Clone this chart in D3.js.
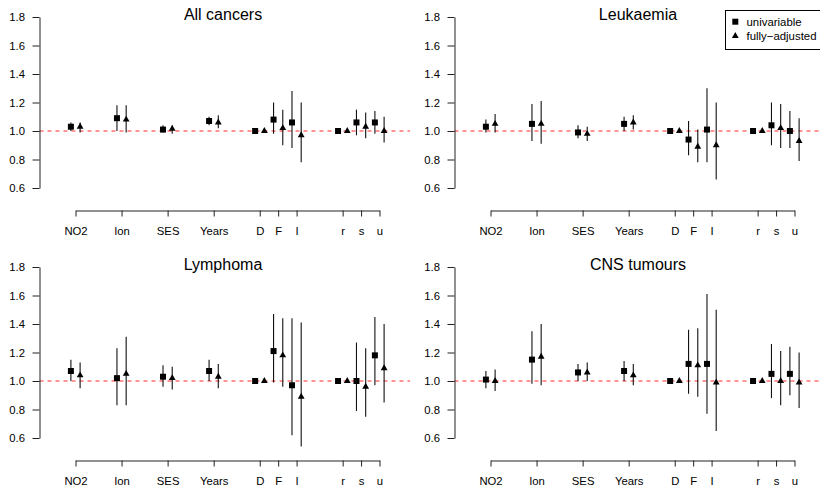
<!DOCTYPE html>
<html><head><meta charset="utf-8">
<script src="https://cdn.jsdelivr.net/npm/d3@7"></script>
<style>
body{margin:0;background:#fff}
svg{display:block}
text{font-family:"Liberation Sans",Arial,Helvetica,sans-serif;fill:#000}
</style>
</head><body>
<svg id="c" width="820" height="486"></svg>
<script>
const categories = ["NO2","Ion","SES","Years","D","F","I","r","s","u"];
const groups = [0,1,2,3,4,4,4,5,5,5];
const panelTitles = ["All cancers","Leukaemia","Lymphoma","CNS tumours"];
const yTicks = [0.6,0.8,1.0,1.2,1.4,1.6,1.8];
const legendLabels = ["univariable","fully\u2212adjusted"];
const refValue = 1.0;

// All cancers
const allUniEst = [1.03,1.09,1.01,1.07,1.00,1.08,1.06,1.00,1.06,1.06];
const allUniLo  = [1.00,1.00,0.99,1.04,null,0.98,0.88,null,0.97,0.98];
const allUniHi  = [1.06,1.18,1.04,1.10,null,1.20,1.28,null,1.15,1.14];
const allAdjEst = [1.03,1.08,1.015,1.06,1.00,1.02,0.97,1.00,1.03,1.00];
const allAdjLo  = [0.99,0.99,0.98,1.02,null,0.90,0.78,null,0.95,0.92];
const allAdjHi  = [1.06,1.18,1.04,1.11,null,1.15,1.20,null,1.13,1.10];

// Leukaemia
const leuUniEst = [1.03,1.05,0.99,1.05,1.00,0.94,1.01,1.00,1.04,1.00];
const leuUniLo  = [0.99,0.93,0.95,1.00,null,0.83,0.78,null,0.90,0.88];
const leuUniHi  = [1.08,1.19,1.04,1.10,null,1.07,1.30,null,1.20,1.14];
const leuAdjEst = [1.05,1.05,0.98,1.06,1.00,0.89,0.90,1.00,1.02,0.93];
const leuAdjLo  = [0.99,0.91,0.93,1.01,null,0.78,0.66,null,0.88,0.79];
const leuAdjHi  = [1.12,1.21,1.03,1.11,null,1.01,1.20,null,1.19,1.09];

// Lymphoma
const lymUniEst = [1.07,1.02,1.03,1.07,1.00,1.21,0.97,1.00,1.00,1.18];
const lymUniLo  = [1.00,0.83,0.96,1.00,null,0.99,0.62,null,0.79,0.97];
const lymUniHi  = [1.15,1.23,1.11,1.15,null,1.47,1.44,null,1.27,1.45];
const lymAdjEst = [1.04,1.05,1.02,1.03,1.00,1.18,0.89,1.00,0.96,1.09];
const lymAdjLo  = [0.95,0.83,0.94,0.95,null,0.96,0.54,null,0.75,0.85];
const lymAdjHi  = [1.13,1.31,1.10,1.12,null,1.44,1.41,null,1.23,1.40];

// CNS tumours
const cnsUniEst = [1.01,1.15,1.06,1.07,1.00,1.12,1.12,1.00,1.05,1.05];
const cnsUniLo  = [0.95,0.98,1.00,1.00,null,0.91,0.77,null,0.88,0.90];
const cnsUniHi  = [1.07,1.35,1.12,1.14,null,1.36,1.61,null,1.26,1.24];
const cnsAdjEst = [1.00,1.17,1.06,1.04,1.00,1.11,0.99,1.00,1.00,0.99];
const cnsAdjLo  = [0.93,0.97,1.00,0.97,null,0.89,0.65,null,0.83,0.81];
const cnsAdjHi  = [1.08,1.40,1.13,1.12,null,1.37,1.50,null,1.21,1.20];

const panels = [
  {title: panelTitles[0], uni:[allUniEst,allUniLo,allUniHi], adj:[allAdjEst,allAdjLo,allAdjHi]},
  {title: panelTitles[1], uni:[leuUniEst,leuUniLo,leuUniHi], adj:[leuAdjEst,leuAdjLo,leuAdjHi]},
  {title: panelTitles[2], uni:[lymUniEst,lymUniLo,lymUniHi], adj:[lymAdjEst,lymAdjLo,lymAdjHi]},
  {title: panelTitles[3], uni:[cnsUniEst,cnsUniLo,cnsUniHi], adj:[cnsAdjEst,cnsAdjLo,cnsAdjHi]}
];

// category positions: new group adds a wider gap
const pos = [];
categories.forEach((c,i)=>{
  if(i===0) pos.push(1);
  else pos.push(pos[i-1] + (groups[i]!==groups[i-1] ? 2.5 : 1));
});

const svg = d3.select("#c");
const x = d3.scaleLinear().domain([pos[0], pos[pos.length-1]]).range([75.5, 379.5]);
const y = d3.scaleLinear().domain([0.6, 1.8]).range([188, 17]);
const off = 0.25;
const sq = d3.symbol().type(d3.symbolSquare).size(36);
const tri = d3.symbol().type(d3.symbolTriangle).size(20);
const fs = "11.3px";

panels.forEach((p, k)=>{
  const col = k % 2, row = Math.floor(k/2);
  const g = svg.append("g").attr("transform", `translate(${col*415},${row*250})`);

  // reference line
  g.append("line").attr("x1",39.5).attr("x2",410).attr("y1",y(refValue)).attr("y2",y(refValue))
    .attr("stroke","#ff2a2a").attr("stroke-width",1).attr("stroke-dasharray","4,4");

  // y axis
  const ya = g.append("g").attr("transform","translate(39.5,0)")
    .call(d3.axisLeft(y).tickValues(yTicks).tickSize(7).tickSizeOuter(0).tickPadding(7.5).tickFormat(d3.format(".1f")));
  ya.selectAll("path,line").attr("stroke","#222");
  ya.selectAll("text").attr("font-size",fs).attr("fill","#111")
    .style("font-family",'"Liberation Sans",Arial,sans-serif');

  // x axis
  const xa = g.append("g").attr("transform","translate(0,210.5)")
    .call(d3.axisBottom(x).tickValues(pos).tickSize(6).tickSizeOuter(0).tickPadding(10)
      .tickFormat((d,i)=>categories[i]));
  xa.selectAll("path,line").attr("stroke","#222");
  xa.selectAll("text").attr("font-size",fs).attr("fill","#111")
    .style("font-family",'"Liberation Sans",Arial,sans-serif');

  // title
  g.append("text").attr("x",223).attr("y",20).attr("text-anchor","middle")
    .attr("font-size","16px").text(p.title);

  const series = [[p.uni,-off,sq],[p.adj,off,tri]];
  series.forEach(([s,o,sym])=>{
    const [est,lo,hi] = s;
    categories.forEach((c,i)=>{
      const cx = x(pos[i]+o);
      if(lo[i]!==null){
        g.append("line").attr("x1",cx).attr("x2",cx).attr("y1",y(lo[i])).attr("y2",y(hi[i]))
          .attr("stroke","#111").attr("stroke-width",1.1);
      }
      g.append("path").attr("d",sym()).attr("transform",`translate(${cx},${y(est[i])})`).attr("fill","#000");
    });
  });

  if(k===1){
    const lg = g.append("g");
    lg.append("rect").attr("x",310.5).attr("y",10.5).attr("width",110).attr("height",39)
      .attr("fill","#fff").attr("stroke","#000").attr("stroke-width",1);
    [sq,tri].forEach((sym,j)=>{
      const yy = j===0 ? 21.7 : 36;
      lg.append("path").attr("d",sym()).attr("transform",`translate(320.3,${yy})`).attr("fill","#000");
      lg.append("text").attr("x",331.5).attr("y",yy).attr("dy","0.35em").attr("font-size","11.4px").text(legendLabels[j]);
    });
  }
});
</script>
</body></html>
